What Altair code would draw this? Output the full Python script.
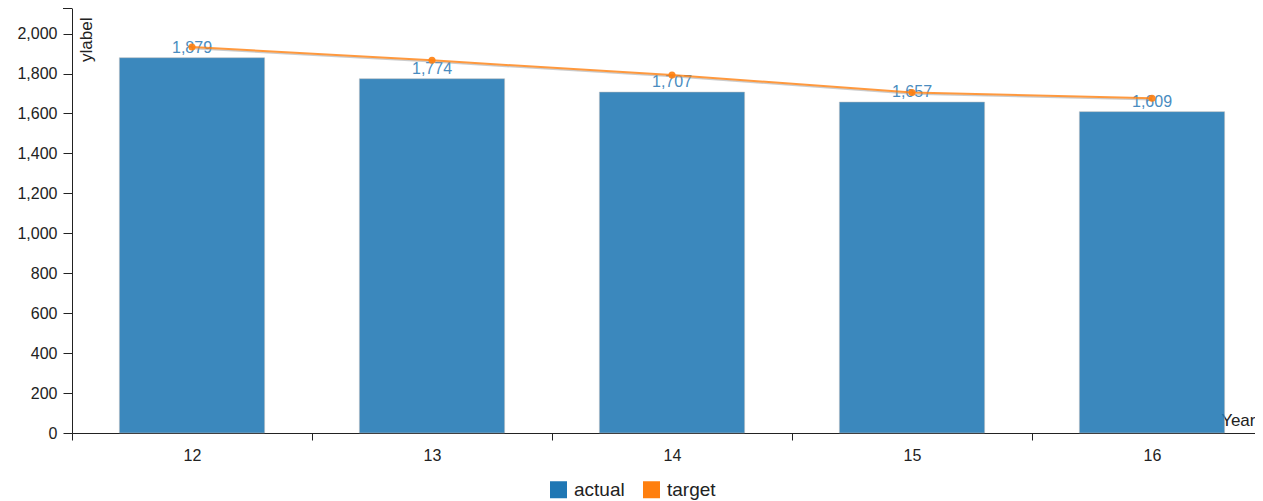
import altair as alt
import pandas as pd

years = ["12", "13", "14", "15", "16"]
actual = [1879, 1774, 1707, 1657, 1609]
target = [1933, 1866, 1792, 1705, 1676]
series_names = ["actual", "target"]
series_colors = ["#1f77b4", "#ff7f0e"]
y_ticks = list(range(0, 2001, 200))
y_max = 2128

df = pd.DataFrame({"year": years, "actual": actual, "target": target, "series": "actual"})

FONT = "Liberation Sans"

x_scale = alt.Scale(paddingInner=0, paddingOuter=0)

x_enc = alt.X(
    "year:N",
    sort=years,
    scale=x_scale,
    axis=alt.Axis(
        title="Year",
        titleX=1183,
        titleY=-8,
        titleAlign="right",
        titleBaseline="alphabetic",
        titleFontSize=17,
        titleFontWeight="normal",
        titleColor="#222",
        titleFont=FONT,
        labelAngle=0,
        labelFontSize=16,
        labelFont=FONT,
        labelColor="#222",
        labelPadding=7,
        tickBand="extent",
        tickSize=7,
        tickColor="#222",
        domainColor="#222",
        grid=False,
    ),
)

y_scale = alt.Scale(domain=[0, y_max], nice=False, zero=True)

y_axis = alt.Axis(
    values=y_ticks,
    format=",.0f",
    title="ylabel",
    titleAngle=270,
    titleX=19,
    titleY=9,
    titleAlign="right",
    titleBaseline="alphabetic",
    titleFontSize=17,
    titleFontWeight="normal",
    titleColor="#222",
    titleFont=FONT,
    labelFontSize=16,
    labelFont=FONT,
    labelColor="#222",
    labelPadding=6,
    tickSize=9,
    tickColor="#222",
    domainColor="#222",
    grid=False,
)

base = alt.Chart(df)

bars = base.mark_bar(
    width=alt.RelativeBandSize(0.605),
    opacity=0.87,
    stroke="#b0b0b0",
    strokeWidth=1,
    strokeOpacity=0.5,
).encode(
    x=x_enc,
    y=alt.Y("actual:Q", scale=y_scale, axis=y_axis),
    color=alt.Color(
        "series:N",
        scale=alt.Scale(domain=series_names, range=series_colors),
        legend=alt.Legend(
            title=None,
            orient="none",
            legendX=477,
            legendY=472,
            direction="horizontal",
            symbolType="square",
            symbolSize=289,
            symbolOpacity=1,
            symbolStrokeWidth=0,
            labelFontSize=19,
            labelFont=FONT,
            labelColor="#222",
            labelOffset=6,
            columnPadding=17,
            padding=0,
        ),
    ),
)

labels = base.mark_text(
    dy=-5, baseline="alphabetic", fontSize=16, font=FONT, color="#4a8cc0"
).encode(
    x=alt.X("year:N", sort=years, scale=x_scale),
    y=alt.Y("actual:Q", scale=y_scale),
    text=alt.Text("actual:Q", format=","),
)

shadow = base.mark_line(color="#999999", strokeWidth=1.5, opacity=0.5, yOffset=1.5).encode(
    x=alt.X("year:N", sort=years, scale=x_scale),
    y=alt.Y("target:Q", scale=y_scale),
)

line = base.mark_line(color="#ff7f0e", strokeWidth=2, opacity=0.8).encode(
    x=alt.X("year:N", sort=years, scale=x_scale),
    y=alt.Y("target:Q", scale=y_scale),
)

points = base.mark_circle(color="#ff7f0e", size=50, opacity=0.9).encode(
    x=alt.X("year:N", sort=years, scale=x_scale),
    y=alt.Y("target:Q", scale=y_scale),
)

cap = alt.Chart(df).mark_rule(color="#222", strokeWidth=1).encode(
    x=alt.value(-9), x2=alt.value(0), y=alt.value(0.5)
)

chart = (
    alt.layer(bars, labels, shadow, line, points, cap)
    .properties(
        width=1200,
        height=425,
        autosize=alt.AutoSizeParams(type="none"),
        padding={"left": 64, "top": 0, "right": -17, "bottom": 68},
        background="white",
    )
    .configure_view(stroke=None)
)

chart.save("out.html", embed_options={"renderer": "svg", "actions": False})
